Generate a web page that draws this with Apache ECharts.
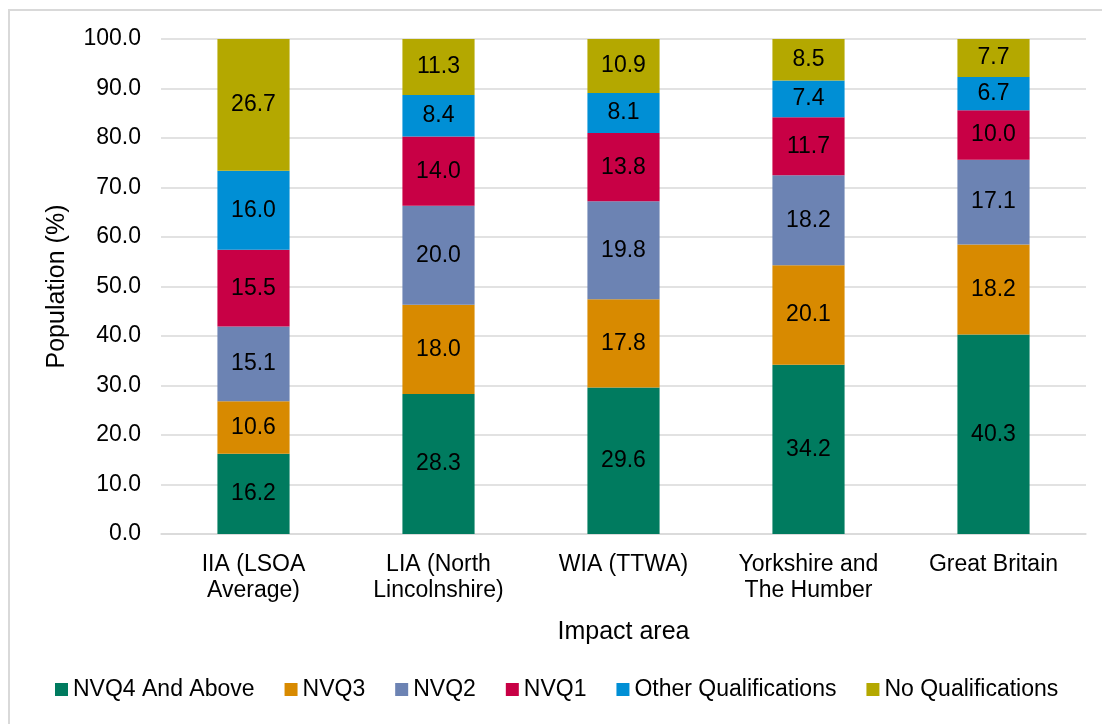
<!DOCTYPE html>
<html>
<head>
<meta charset="utf-8">
<script src="https://cdn.jsdelivr.net/npm/echarts@6/dist/echarts.min.js"></script>
<style>
  html, body { margin: 0; padding: 0; background: #fff; }
  #frame { position: absolute; left: 8px; top: 9px; width: 1200px; height: 800px; border: 2px solid #d9d9d9; }
  #chart { position: absolute; left: 0; top: 0; width: 1102px; height: 724px; }
</style>
</head>
<body>
<div id="frame"></div>
<div id="chart"></div>
<script>
  // areas on the x axis
  var areas = ['IIA (LSOA\nAverage)', 'LIA (North\nLincolnshire)', 'WIA (TTWA)', 'Yorkshire and\nThe Humber', 'Great Britain'];

  // share of population (%) per qualification level
  var nvq4 = [16.2, 28.3, 29.6, 34.2, 40.3];
  var nvq3 = [10.6, 18.0, 17.8, 20.1, 18.2];
  var nvq2 = [15.1, 20.0, 19.8, 18.2, 17.1];
  var nvq1 = [15.5, 14.0, 13.8, 11.7, 10.0];
  var otherQual = [16.0, 8.4, 8.1, 7.4, 6.7];
  var noQual = [26.7, 11.3, 10.9, 8.5, 7.7];

  var seriesNames = ['NVQ4 And Above', 'NVQ3', 'NVQ2', 'NVQ1', 'Other Qualifications', 'No Qualifications'];
  var seriesData = [nvq4, nvq3, nvq2, nvq1, otherQual, noQual];
  var colors = ['#007b5f', '#d88a00', '#6c83b3', '#c80045', '#008fd5', '#b4a800'];

  var font = '"Liberation Sans", Arial, sans-serif';

  var myChart = echarts.init(document.getElementById('chart'));
  var option = {
    animation: false,
    color: colors,
    grid: { left: 161, right: 16, top: 39, bottom: 190 },
    legend: {
      bottom: 18,
      left: 50,
      itemWidth: 13,
      itemHeight: 13,
      itemGap: 30,
      icon: 'rect',
      textStyle: { fontFamily: font, fontSize: 23, color: '#000' },
      data: seriesNames
    },
    xAxis: {
      type: 'category',
      data: areas,
      name: 'Impact area',
      nameLocation: 'middle',
      nameGap: 86,
      nameTextStyle: { fontFamily: font, fontSize: 25, color: '#000' },
      axisTick: { show: false },
      axisLine: { lineStyle: { color: '#d9d9d9', width: 1.5 } },
      axisLabel: { fontFamily: font, fontSize: 23, color: '#000', lineHeight: 26, margin: 18, interval: 0 }
    },
    yAxis: {
      type: 'value',
      min: 0,
      max: 100,
      interval: 10,
      name: 'Population (%)',
      nameLocation: 'middle',
      nameGap: 91,
      nameTextStyle: { fontFamily: font, fontSize: 25, color: '#000' },
      axisLine: { show: false },
      axisTick: { show: false },
      splitLine: { lineStyle: { color: '#d9d9d9', width: 1.5 } },
      axisLabel: {
        fontFamily: font, fontSize: 23, color: '#000', margin: 20,
        formatter: function (v) { return v.toFixed(1); }
      }
    },
    series: seriesNames.map(function (name, i) {
      return {
        name: name,
        type: 'bar',
        stack: 'total',
        barWidth: '39%',
        data: seriesData[i],
        label: {
          show: true,
          position: 'inside',
          color: '#000',
          fontFamily: font,
          fontSize: 23,
          formatter: function (p) { return p.value.toFixed(1); }
        }
      };
    })
  };
  myChart.setOption(option);
</script>
</body>
</html>
